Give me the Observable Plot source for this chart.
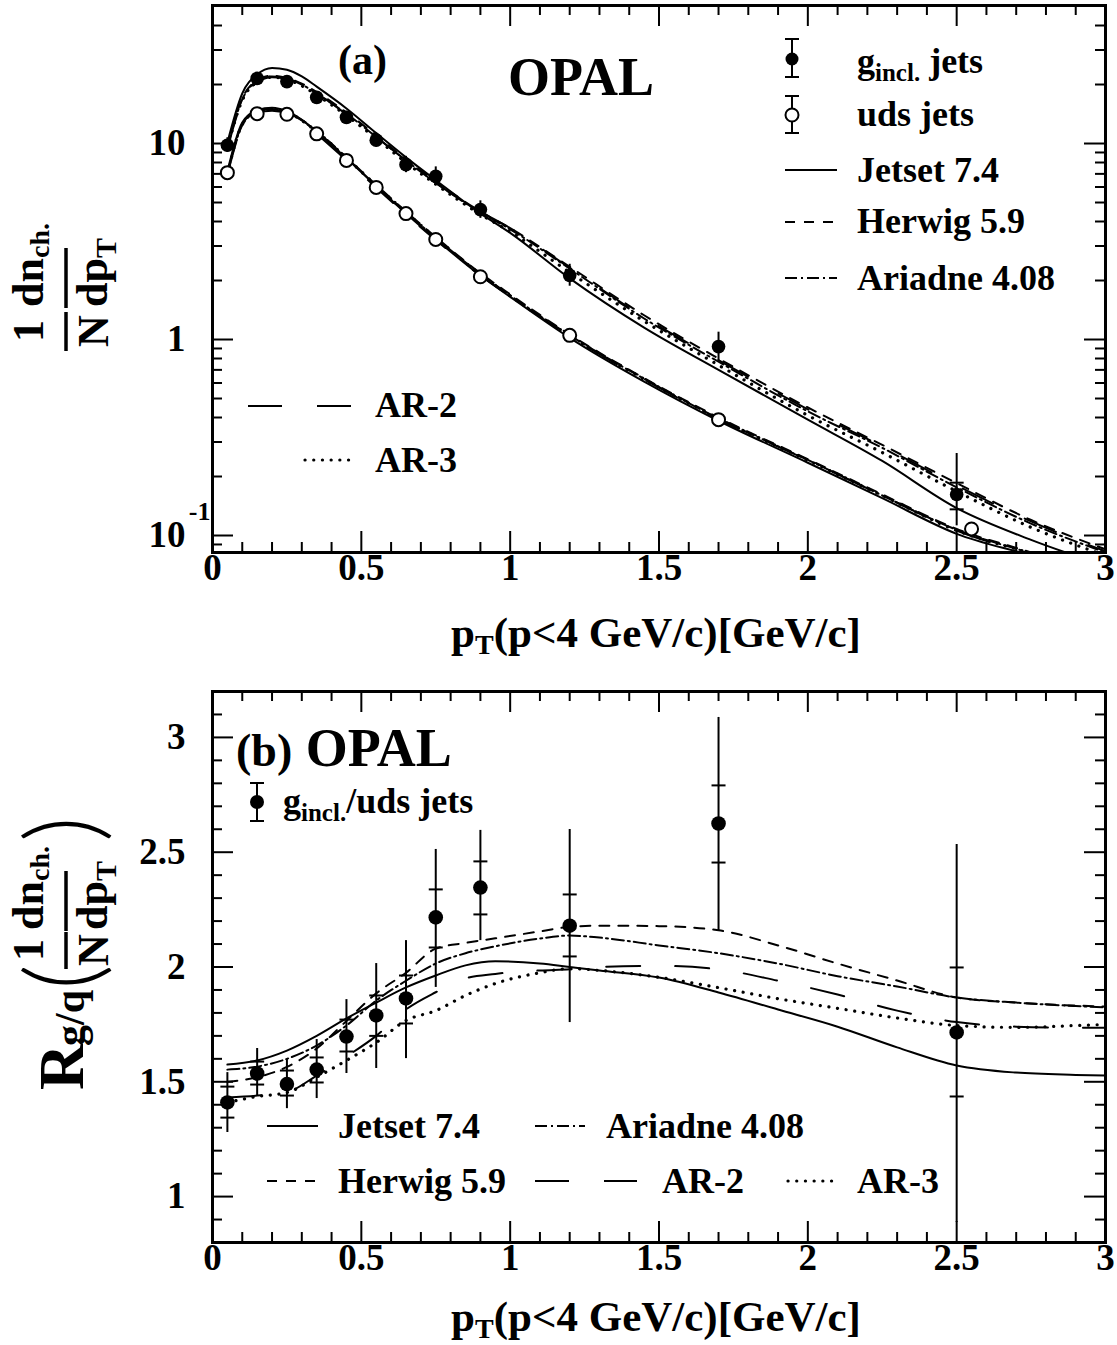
<!DOCTYPE html>
<html><head><meta charset="utf-8">
<script src="https://cdn.jsdelivr.net/npm/d3@7"></script>
<script src="https://cdn.jsdelivr.net/npm/@observablehq/plot@0.6"></script>
<style>
body{margin:0;background:#fff;}
#wrap{position:relative;width:1117px;height:1345px;overflow:hidden;background:#fff;}
#wrap svg{position:absolute;left:0;}
</style></head><body><div id="wrap"></div>
<script>
// ---------------- data: panel (a) ----------------
const gPt = [0.05,0.15,0.25,0.35,0.45,0.55,0.65,0.75,0.9,1.2,1.7,2.5];
const gVal = [9.8,21.5,20.7,17.2,13.6,10.4,7.8,6.8,4.6,2.12,0.92,0.162];
const gLo  = [9.0,20.0,19.4,16.1,12.7,9.6,7.1,6.1,4.15,1.87,0.78,0.112];
const gHi  = [10.7,23.0,22.0,18.4,14.6,11.3,8.6,7.6,5.1,2.42,1.09,0.262];
const gStatPt = [2.5];
const gStatLo = [0.136];
const gStatHi = [0.186];
const udsPt = [0.05,0.15,0.25,0.35,0.45,0.55,0.65,0.75,0.9,1.2,1.7,2.55];
const udsVal = [7.1,14.2,14.1,11.2,8.2,5.97,4.39,3.24,2.09,1.05,0.39,0.108];

const mcPt = [0.05,0.1,0.15,0.2,0.25,0.3,0.35,0.45,0.55,0.65,0.75,0.9,1.0,1.2,1.45,1.7,2.0,2.25,2.5,2.75,3.0];
const gJetset  = [10.1,18.0,22.5,24.3,23.8,22.0,19.5,15.1,11.3,8.5,6.5,4.4,3.5,2.05,1.15,0.70,0.39,0.24,0.138,0.095,0.070];
const gHerwig  = [9.6,17.0,21.0,22.2,21.6,20.2,18.3,14.4,11.0,8.3,6.4,4.5,3.7,2.35,1.33,0.80,0.45,0.29,0.185,0.120,0.085];
const gAriadne = [9.5,16.8,20.8,22.0,21.4,20.0,18.0,14.2,10.8,8.2,6.3,4.45,3.65,2.3,1.28,0.77,0.43,0.28,0.176,0.115,0.082];
const gAR2     = [9.4,16.5,20.5,21.8,21.3,19.9,18.0,14.1,10.8,8.2,6.3,4.5,3.7,2.32,1.30,0.785,0.44,0.285,0.18,0.118,0.083];
const gAR3     = [9.5,16.6,20.6,21.8,21.2,19.7,17.7,13.9,10.6,8.0,6.2,4.35,3.55,2.2,1.24,0.74,0.41,0.265,0.168,0.11,0.079];
const uJetset  = [7.2,12.8,14.8,15.2,14.6,13.2,11.5,8.4,6.05,4.4,3.25,2.12,1.65,1.02,0.61,0.385,0.235,0.155,0.102,0.079,0.060];
const uHerwig  = [7.0,12.5,14.6,15.0,14.5,13.2,11.6,8.5,6.15,4.5,3.33,2.18,1.70,1.06,0.635,0.40,0.245,0.162,0.108,0.082,0.062];
const uAriadne = [7.0,12.4,14.5,14.9,14.4,13.1,11.5,8.45,6.1,4.45,3.3,2.16,1.68,1.05,0.63,0.395,0.243,0.16,0.107,0.081,0.061];
const uAR2     = [6.9,12.2,14.3,14.7,14.2,12.9,11.2,8.2,5.95,4.35,3.22,2.12,1.66,1.04,0.625,0.393,0.242,0.16,0.106,0.080,0.060];
const uAR3     = [7.0,12.5,14.6,15.0,14.5,13.1,11.5,8.45,6.1,4.45,3.3,2.15,1.67,1.045,0.628,0.395,0.242,0.16,0.106,0.081,0.061];

// ---------------- data: panel (b) ----------------
const rPt = [0.05,0.15,0.25,0.35,0.45,0.55,0.65,0.75,0.9,1.2,1.7,2.5];
const rVal    = [1.41,1.536,1.49,1.553,1.697,1.789,1.863,2.216,2.346,2.18,2.625,1.715];
const rTotLo  = [1.279,1.440,1.383,1.427,1.536,1.558,1.601,1.911,2.115,1.758,2.155,0.887];
const rTotHi  = [1.540,1.645,1.597,1.684,1.858,2.015,2.115,2.512,2.595,2.599,3.087,2.534];
const rStatLo = [1.344,1.488,1.440,1.497,1.632,1.700,1.754,2.085,2.229,2.046,2.455,1.436];
const rStatHi = [1.479,1.588,1.549,1.606,1.771,1.876,1.963,2.338,2.460,2.316,2.791,1.998];

const rMcPt = [0.05,0.15,0.25,0.35,0.45,0.55,0.65,0.75,0.85,0.95,1.1,1.2,1.3,1.5,1.7,1.9,2.1,2.3,2.5,2.7,2.9,3.0];
const rJetset  = [1.575,1.593,1.636,1.70,1.776,1.845,1.911,1.963,2.007,2.025,2.015,2.0,1.985,1.954,1.889,1.815,1.74,1.65,1.571,1.54,1.53,1.527];
const rHerwig  = [1.50,1.52,1.565,1.645,1.765,1.885,1.975,2.08,2.105,2.125,2.155,2.175,2.18,2.178,2.16,2.094,2.015,1.941,1.867,1.845,1.832,1.828];
const rAriadne = [1.553,1.566,1.60,1.658,1.745,1.854,1.94,2.015,2.06,2.09,2.124,2.137,2.128,2.094,2.06,2.015,1.96,1.915,1.867,1.845,1.83,1.824];
const rAR2     = [1.432,1.44,1.455,1.527,1.61,1.70,1.815,1.89,1.95,1.97,1.985,1.99,2.0,2.005,1.99,1.94,1.88,1.81,1.76,1.74,1.735,1.735];
const rAR3     = [1.41,1.436,1.453,1.52,1.593,1.671,1.767,1.81,1.876,1.928,1.975,1.993,1.985,1.955,1.91,1.862,1.82,1.778,1.745,1.737,1.745,1.75];

// ---------------- ticks ----------------
const xMajor = [0,0.5,1,1.5,2,2.5,3];
const xMinor = [0.1,0.2,0.3,0.4,0.6,0.7,0.8,0.9,1.1,1.2,1.3,1.4,1.6,1.7,1.8,1.9,2.1,2.2,2.3,2.4,2.6,2.7,2.8,2.9];
const xLabels = ["0","0.5","1","1.5","2","2.5","3"];
const yTopMajor = [0.1,1,10];
const yTopMinor = [0.09,0.2,0.3,0.4,0.5,0.6,0.7,0.8,0.9,2,3,4,5,6,7,8,9,20,30,40];
const yTopLabels = ["10","1","10"];
const yBotMajor = [1,1.5,2,2.5,3];
const yBotMinor = [0.9,1.1,1.2,1.3,1.4,1.6,1.7,1.8,1.9,2.1,2.2,2.3,2.4,2.6,2.7,2.8,2.9,3.1];
const yBotLabels = ["1","1.5","2","2.5","3"];

// ---------------- styles ----------------
const FONT = "'Liberation Serif','Times New Roman',serif";
const sty = {
  jetset:  {stroke:"black", strokeWidth:2},
  herwig:  {stroke:"black", strokeWidth:2, strokeDasharray:"10,9"},
  ariadne: {stroke:"black", strokeWidth:2, strokeDasharray:"12,4,2,4"},
  ar2:     {stroke:"black", strokeWidth:2, strokeDasharray:"34,35"},
  ar3:     {stroke:"black", strokeWidth:3.2, strokeDasharray:"0.1,8.6", strokeLinecap:"round"}
};
const capSymbol = {draw(ctx, size){ const r = Math.sqrt(size/Math.PI); ctx.moveTo(-r,0); ctx.lineTo(r,0); }};

const W = 1117, mL = 212, mR = 12;
const frameW = W - mL - mR;

function zipXY(xs, ys){ return xs.map((x,i)=>({x, y: ys[i]})); }

function tickMarks(frameH, yMaj, yMin){
  const s = {stroke:"black", strokeWidth:2};
  const id = d=>d;
  return [
    Plot.tickX(xMajor, {x:id, insetTop: frameH-21, ...s}),
    Plot.tickX(xMinor, {x:id, insetTop: frameH-10, ...s}),
    Plot.tickX(xMajor, {x:id, insetBottom: frameH-21, ...s}),
    Plot.tickX(xMinor, {x:id, insetBottom: frameH-10, ...s}),
    Plot.tickY(yMaj, {y:id, insetRight: frameW-21, ...s}),
    Plot.tickY(yMin, {y:id, insetRight: frameW-10, ...s}),
    Plot.tickY(yMaj, {y:id, insetLeft: frameW-21, ...s}),
    Plot.tickY(yMin, {y:id, insetLeft: frameW-10, ...s})
  ];
}
function xLabelMarks(){
  return Plot.text(xMajor, {x:d=>d, frameAnchor:"bottom", dy:27, text:(d,i)=>xLabels[i],
    fontSize:37, fontWeight:"bold", fill:"black"});
}
function curves(xs, set){
  return [
    Plot.line(zipXY(xs,set[0]), {x:"x", y:"y", curve:"monotone-x", clip:true, ...sty.jetset}),
    Plot.line(zipXY(xs,set[1]), {x:"x", y:"y", curve:"monotone-x", clip:true, ...sty.herwig}),
    Plot.line(zipXY(xs,set[2]), {x:"x", y:"y", curve:"monotone-x", clip:true, ...sty.ariadne}),
    Plot.line(zipXY(xs,set[3]), {x:"x", y:"y", curve:"monotone-x", clip:true, ...sty.ar2}),
    Plot.line(zipXY(xs,set[4]), {x:"x", y:"y", curve:"monotone-x", clip:true, ...sty.ar3})
  ];
}

// ---------------- panel (a) ----------------
const topH = 672, topMT = 5, topMB = 120, topFH = topH - topMT - topMB;
const gData = gPt.map((x,i)=>({x, y:gVal[i], lo:gLo[i], hi:gHi[i]}));
const gStat = gStatPt.map((x,i)=>({x, lo:gStatLo[i], hi:gStatHi[i]}));
const udsData = zipXY(udsPt, udsVal);

const topPlot = Plot.plot({
  width: W, height: topH, marginLeft: mL, marginRight: mR, marginTop: topMT, marginBottom: topMB,
  style: {fontFamily: FONT, background: "white", color: "black"},
  x: {domain: [0,3], axis: null},
  y: {type: "log", domain: [0.0819, 50.6], axis: null},
  marks: [
    ...curves(mcPt, [gJetset,gHerwig,gAriadne,gAR2,gAR3]),
    ...curves(mcPt, [uJetset,uHerwig,uAriadne,uAR2,uAR3]),
    Plot.ruleX(gData, {x:"x", y1:"lo", y2:"hi", stroke:"black", strokeWidth:2}),
    Plot.dot(gStat, {x:"x", y:"lo", symbol:capSymbol, r:7, stroke:"black", strokeWidth:2, fill:"none"}),
    Plot.dot(gStat, {x:"x", y:"hi", symbol:capSymbol, r:7, stroke:"black", strokeWidth:2, fill:"none"}),
    Plot.dot(gData, {x:"x", y:"y", r:6.8, fill:"black", stroke:"none"}),
    Plot.dot(udsData, {x:"x", y:"y", r:6.5, fill:"white", stroke:"black", strokeWidth:2}),
    ...tickMarks(topFH, yTopMajor, yTopMinor),
    Plot.frame({stroke:"black", strokeWidth:3}),
    xLabelMarks(),
    Plot.text(yTopMajor, {y:d=>d, frameAnchor:"left", dx:-27, textAnchor:"end", text:(d,i)=>yTopLabels[i],
      fontSize:37, fontWeight:"bold", fill:"black"}),
    Plot.text([0.1], {y:d=>d, frameAnchor:"left", dx:-2, dy:-24, textAnchor:"end", text:()=>"-1",
      fontSize:26, fontWeight:"bold", fill:"black"})
  ]
});
topPlot.style.top = "0px";

// ---------------- panel (b) ----------------
const botH = 673, botMT = 19, botMB = 103, botFH = botH - botMT - botMB;
const rData = rPt.map((x,i)=>({x, y:rVal[i], lo:rTotLo[i], hi:rTotHi[i], slo:rStatLo[i], shi:rStatHi[i]}));

const botPlot = Plot.plot({
  width: W, height: botH, marginLeft: mL, marginRight: mR, marginTop: botMT, marginBottom: botMB,
  style: {fontFamily: FONT, background: "white", color: "black"},
  x: {domain: [0,3], axis: null},
  y: {domain: [0.8, 3.2], axis: null},
  marks: [
    ...curves(rMcPt, [rJetset,rHerwig,rAriadne,rAR2,rAR3]),
    Plot.ruleX(rData, {x:"x", y1:"lo", y2:"hi", stroke:"black", strokeWidth:2}),
    Plot.dot(rData, {x:"x", y:"slo", symbol:capSymbol, r:7, stroke:"black", strokeWidth:2, fill:"none"}),
    Plot.dot(rData, {x:"x", y:"shi", symbol:capSymbol, r:7, stroke:"black", strokeWidth:2, fill:"none"}),
    Plot.dot(rData, {x:"x", y:"y", r:7.3, fill:"black", stroke:"none"}),
    ...tickMarks(botFH, yBotMajor, yBotMinor),
    Plot.frame({stroke:"black", strokeWidth:3}),
    xLabelMarks(),
    Plot.text(yBotMajor, {y:d=>d, frameAnchor:"left", dx:-27, textAnchor:"end", text:(d,i)=>yBotLabels[i],
      fontSize:37, fontWeight:"bold", fill:"black"})
  ]
});
botPlot.style.top = topH + "px";

const wrap = document.getElementById("wrap");
wrap.appendChild(topPlot);
wrap.appendChild(botPlot);

// ---------------- overlay: titles, legends, annotations ----------------
const ov = d3.select(wrap).append("svg")
  .attr("width", W).attr("height", 1345)
  .style("position","absolute").style("top","0px").style("left","0px")
  .style("font-family", FONT).style("font-weight","bold");

function txt(x, y, parts, size, anchor="start", g=ov){
  const t = g.append("text").attr("x", x).attr("y", y).attr("font-size", size).attr("text-anchor", anchor).attr("fill","black");
  parts.forEach(p=>{
    const s = t.append("tspan").text(p.t);
    if (p.size) s.attr("font-size", p.size);
    if (p.dy) s.attr("dy", p.dy);
  });
  return t;
}
function hline(x1,x2,y,st){
  const l = ov.append("line").attr("x1",x1).attr("x2",x2).attr("y1",y).attr("y2",y)
    .attr("stroke","black").attr("stroke-width", st.strokeWidth);
  if (st.strokeDasharray) l.attr("stroke-dasharray", st.strokeDasharray);
  if (st.strokeLinecap) l.attr("stroke-linecap", st.strokeLinecap);
}
function errSym(x, yc, y1, y2, filled, r){
  ov.append("line").attr("x1",x).attr("x2",x).attr("y1",y1).attr("y2",y2).attr("stroke","black").attr("stroke-width",2);
  [y1,y2].forEach(y=>ov.append("line").attr("x1",x-7).attr("x2",x+7).attr("y1",y).attr("y2",y).attr("stroke","black").attr("stroke-width",2));
  ov.append("circle").attr("cx",x).attr("cy",yc).attr("r",r)
    .attr("fill", filled ? "black" : "white").attr("stroke","black").attr("stroke-width", filled?0:2);
}
function vbar(x, y1, y2){
  ov.append("line").attr("x1",x).attr("x2",x).attr("y1",y1).attr("y2",y2).attr("stroke","black").attr("stroke-width",3.5);
}

// panel (a) annotations
txt(338, 74, [{t:"(a)"}], 42);
txt(508, 95, [{t:"OPAL"}], 54);
errSym(792, 59, 39, 77, true, 6.5);
txt(857, 73, [{t:"g"},{t:"incl.", size:25, dy:8},{t:" jets", dy:-8}], 36);
errSym(792, 115, 96, 133, false, 6.5);
txt(857, 126, [{t:"uds jets"}], 36);
hline(785, 837, 170, sty.jetset);  txt(857, 182, [{t:"Jetset 7.4"}], 36);
hline(785, 837, 222, sty.herwig);  txt(857, 233, [{t:"Herwig 5.9"}], 36);
hline(785, 837, 278, sty.ariadne); txt(857, 290, [{t:"Ariadne 4.08"}], 36);
hline(248, 352, 406, sty.ar2);     txt(375, 417, [{t:"AR-2"}], 36);
hline(305, 352, 460, sty.ar3);     txt(375, 472, [{t:"AR-3"}], 36);

// panel (b) annotations
txt(236, 766, [{t:"(b)", size:46},{t:" OPAL"}], 54);
errSym(257, 802, 783, 821, true, 7);
txt(283, 813, [{t:"g"},{t:"incl.", size:25, dy:8},{t:"/uds jets", dy:-8}], 36);
hline(267, 318, 1126, sty.jetset);  txt(338, 1138, [{t:"Jetset 7.4"}], 36);
hline(535, 585, 1126, sty.ariadne); txt(606, 1138, [{t:"Ariadne 4.08"}], 36);
hline(267, 318, 1181, sty.herwig);  txt(338, 1193, [{t:"Herwig 5.9"}], 36);
hline(535, 637, 1181, sty.ar2);     txt(662, 1193, [{t:"AR-2"}], 36);
hline(788, 835, 1181, sty.ar3);     txt(857, 1193, [{t:"AR-3"}], 36);

// x-axis titles
[647, 1331].forEach(by=>{
  txt(656, by, [{t:"p"},{t:"T", size:28, dy:7},{t:"(p<4 GeV/c)[GeV/c]", dy:-7}], 43, "middle");
});

// y-axis title (a): rotated fraction  (local u = -screenY, v = screenX)
const ga = ov.append("g").attr("transform","rotate(-90)");
txt(-331, 43, [{t:"1"}], 44, "middle", ga);
txt(-331, 108, [{t:"N"}], 44, "middle", ga);
txt(-307, 43, [{t:"dn"},{t:"ch.", size:28, dy:6}], 44, "start", ga);
txt(-307, 107, [{t:"dp"},{t:"T", size:30, dy:9}], 44, "start", ga);
vbar(66, 312, 351);
vbar(66, 248, 308);

// y-axis title (b)
const gb = ov.append("g").attr("transform","rotate(-90)");
txt(-1090, 83, [{t:"R"}], 64, "start", gb);
txt(-1046, 84, [{t:"g/q"}], 42, "start", gb);
const pl = txt(-977, 98, [{t:"("}], 100, "middle", gb);
const pr = txt(-829, 98, [{t:")"}], 100, "middle", gb);
[pl, pr].forEach(p => p.style("font-family", "Lato, 'DejaVu Sans', sans-serif").style("font-weight", "300"));
txt(-950, 43, [{t:"1"}], 44, "middle", gb);
txt(-950, 108, [{t:"N"}], 44, "middle", gb);
txt(-930, 43, [{t:"dn"},{t:"ch.", size:28, dy:6}], 44, "start", gb);
txt(-930, 107, [{t:"dp"},{t:"T", size:30, dy:9}], 44, "start", gb);
vbar(66, 932, 969);
vbar(66, 871, 931);
</script>
</body></html>
